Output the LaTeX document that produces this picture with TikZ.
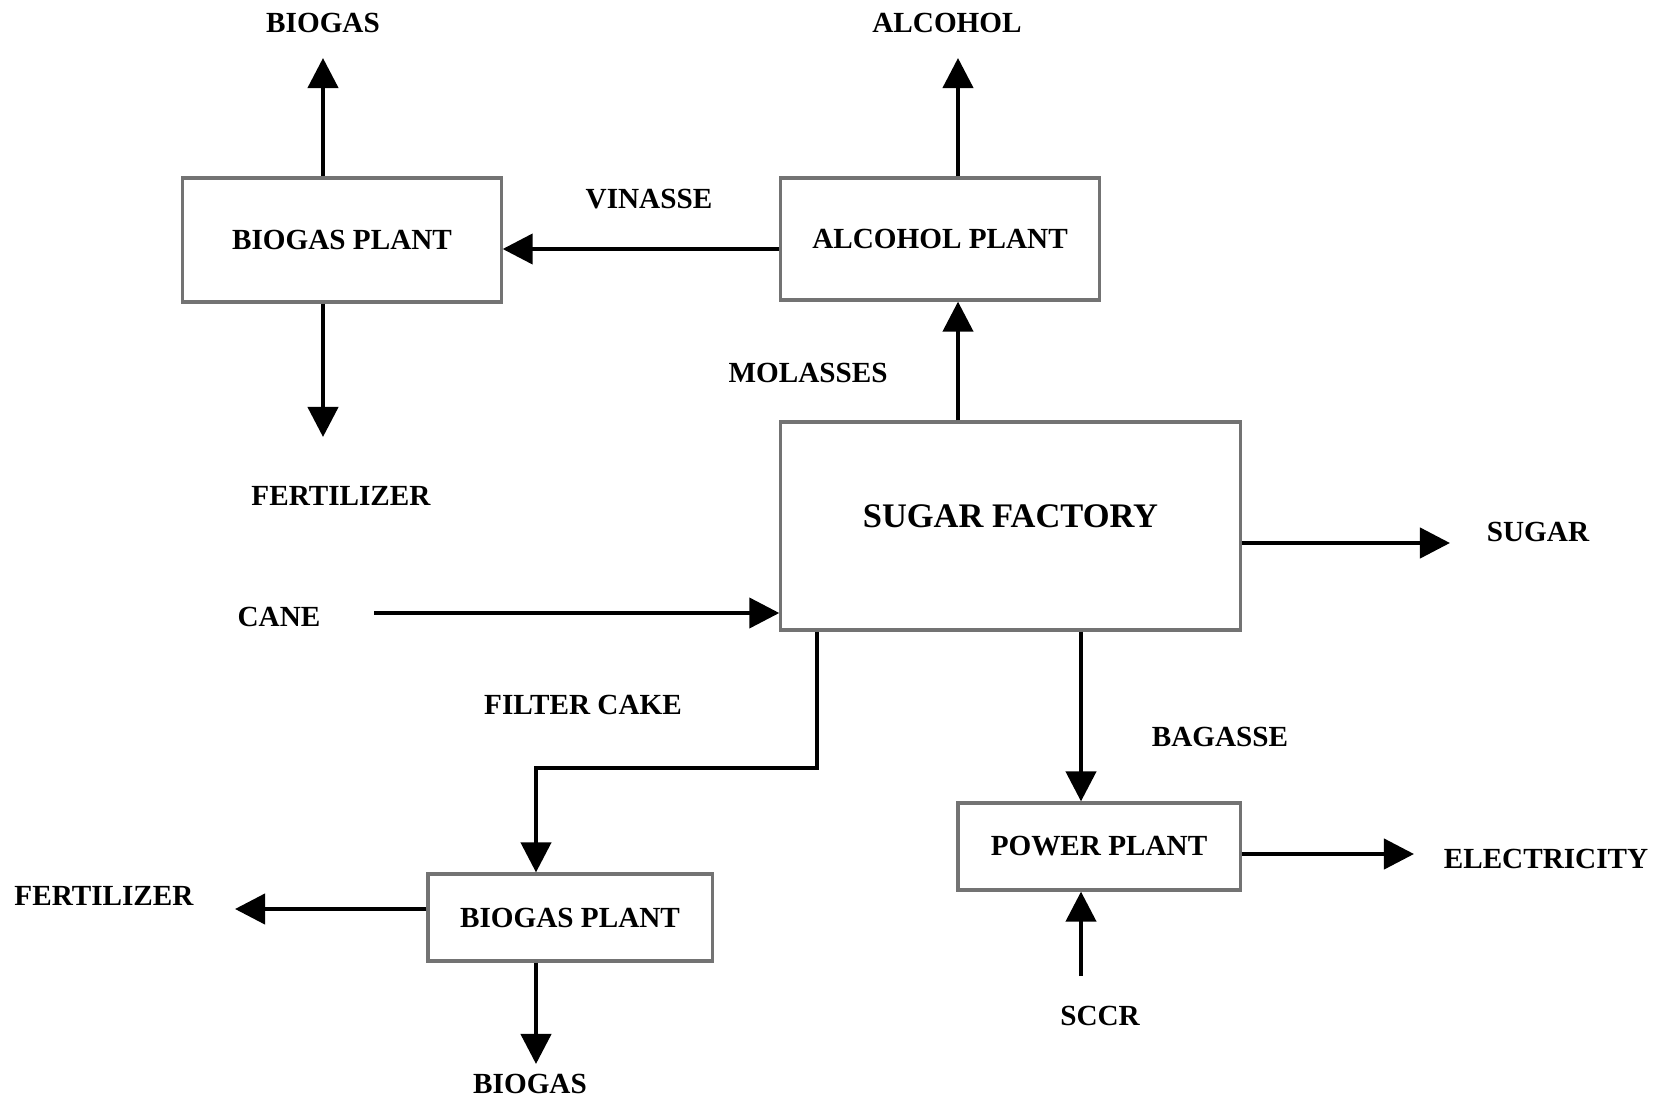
\documentclass[tikz,border=0pt]{standalone}
\usepackage{fontspec}
\setmainfont{Liberation Serif}
\usetikzlibrary{arrows.meta, positioning}

\begin{document}
\begin{tikzpicture}[x=0.01cm, y=-0.01cm,
    box/.style={draw=black!55, line width=0.9pt, fill=white, align=center, inner sep=0pt, font=\fontsize{8.3}{10}\selectfont\bfseries},
    lbl/.style={inner sep=0pt, font=\fontsize{8.3}{10}\selectfont\bfseries},
    flow/.style={line width=1.2pt, -{Triangle[length=3mm, width=3mm]}}]
                \useasboundingbox (0,0) rectangle (1663,1100);
                % process blocks
                \node[box, minimum width=3.18cm, minimum height=1.24cm](bgtop) at (342,240){BIOGAS PLANT};
                \node[box, minimum width=3.18cm, minimum height=1.22cm](alco) at (940,239){ALCOHOL PLANT};
                \node[box, minimum width=4.59cm, minimum height=2.08cm, text depth=0.2cm, font=\fontsize{9.8}{11}\selectfont\bfseries](sugar) at (1010.5,526){SUGAR FACTORY};
                \node[box, minimum width=2.82cm, minimum height=0.87cm](power) at (1099,846.5){POWER PLANT};
                \node[box, minimum width=2.84cm, minimum height=0.87cm](bgbot) at (570,917.5){BIOGAS PLANT};
                % stream names
                \node[lbl](biogasA) at (323,23){BIOGAS};
                \node[lbl](alcohol) at (947,23){ALCOHOL};
                \node[lbl](vinasse) at (649,199){VINASSE};
                \node[lbl](molasses) at (808,373){MOLASSES};
                \node[lbl](fertA) at (341,496){FERTILIZER};
                \node[lbl](cane) at (279,617){CANE};
                \node[lbl](sugarout) at (1538,532){SUGAR};
                \node[lbl](filtercake) at (583,705){FILTER CAKE};
                \node[lbl](bagasse) at (1220,737){BAGASSE};
                \node[lbl](elec) at (1546,859){ELECTRICITY};
                \node[lbl](fertB) at (104,896){FERTILIZER};
                \node[lbl](sccr) at (1100,1016){SCCR};
                \node[lbl](biogasB) at (530,1084){BIOGAS};
                % arrow ends
                \coordinate(bgA) at (323,58);
                \coordinate(fA) at (323,437);
                \coordinate(alA) at (958,58);
                \coordinate(vin) at (501,249);
                \coordinate(caneA) at (374,613);
                \coordinate(sugA) at (1450,543);
                \coordinate(fc) at (817,768);
                \coordinate(elA) at (1414,854);
                \coordinate(scA) at (1081,976);
                \coordinate(fB) at (235,909);
                \coordinate(bgB) at (536,1064);
                % flows
                \draw[flow] (bgtop.north -| bgA) -- (bgA);
                \draw[flow] (bgtop.south -| fA) -- (fA);
                \draw[flow] (alco.north -| alA) -- (alA);
                \draw[flow] (alco.west |- vin) -- (bgtop.east |- vin);
                \draw[flow] (sugar.north -| alA) -- (alco.south -| alA);
                \draw[flow] (caneA) -- (sugar.west |- caneA);
                \draw[flow] (sugar.east |- sugA) -- (sugA);
                \draw[flow] (sugar.south -| fc) -- (fc) -- (fc -| bgB) -- (bgbot.north -| bgB);
                \draw[flow] (sugar.south -| scA) -- (power.north -| scA);
                \draw[flow] (power.east |- elA) -- (elA);
                \draw[flow] (scA) -- (power.south -| scA);
                \draw[flow] (bgbot.west |- fB) -- (fB);
                \draw[flow] (bgbot.south -| bgB) -- (bgB);
            \end{tikzpicture}
\end{document}
